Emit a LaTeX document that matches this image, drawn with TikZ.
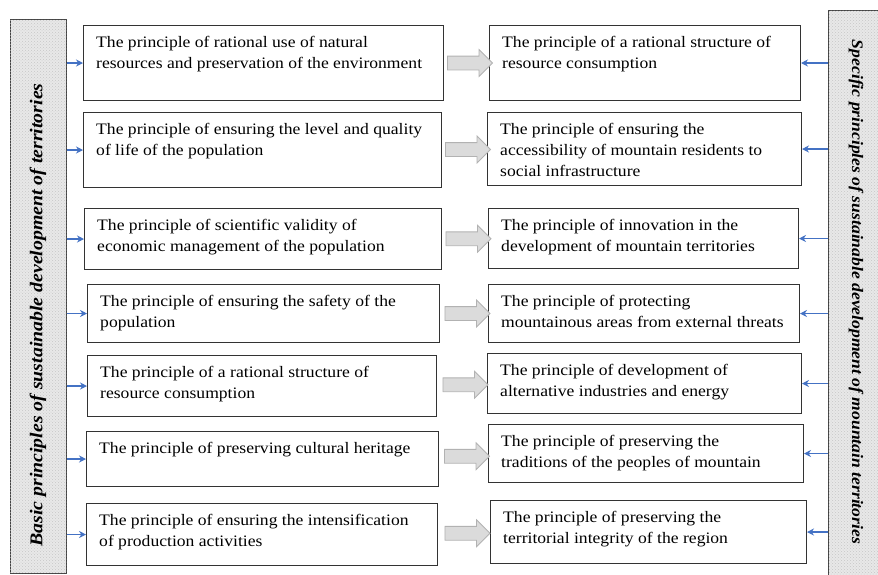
\documentclass[tikz,border=0pt]{standalone}
\usepackage{fontspec}
\setmainfont{Liberation Serif}[FakeStretch=1.1]
\usepackage{xcolor}
\usetikzlibrary{arrows.meta,positioning,calc,shapes.arrows,patterns}
\definecolor{arrblue}{HTML}{4472C4}

\begin{document}
\begin{tikzpicture}[x=1pt,y=-1pt,
 box/.style={draw=black!80,line width=1pt,anchor=north west,inner sep=0pt},
 txt/.style={anchor=north west,align=left,inner sep=0pt,font=\fontsize{16}{21}\selectfont},
 bar/.style={draw=black!75,line width=0.8pt,fill=gray!18,anchor=north west,inner sep=0pt,
   postaction={pattern=crosshatch dots,pattern color=gray!45}},
 barlbl/.style={font=\fontsize{#1}{20}\selectfont\bfseries\itshape},
 garrow/.style={single arrow,draw=gray!60,fill=gray!28,line width=0.8pt,minimum height=45pt,
   inner ysep=6.5pt,inner xsep=0pt,single arrow head extend=6.5pt,single arrow head indent=0pt},
 ba/.style={-{Stealth[length=7pt,width=7pt]},draw=arrblue,line width=1.1pt}]
\useasboundingbox (0,0) rectangle (878,574);
% side bars
\node[bar,minimum width=56pt,minimum height=554pt] (lbar) at (10,19) {};
\node[barlbl=18,rotate=90] (lbl) at (38,315) {Basic principles of sustainable development of territories};
\node[bar,minimum width=60pt,minimum height=580pt] (rbar) at (828,10) {};
\node[barlbl=16,rotate=-90] (rlbl) at (856,292) {Specific principles of sustainable development of mountain territories};
% basic principles
\node[box,minimum width=360pt,minimum height=75pt] (l1) at (83,25) {};
\node[box,minimum width=358pt,minimum height=75pt] (l2) at (83,112) {};
\node[box,minimum width=357pt,minimum height=61pt] (l3) at (84,208) {};
\node[box,minimum width=352pt,minimum height=58pt] (l4) at (87,284) {};
\node[box,minimum width=349pt,minimum height=61pt] (l5) at (87,355) {};
\node[box,minimum width=352pt,minimum height=55pt] (l6) at (86,431) {};
\node[box,minimum width=351pt,minimum height=62pt] (l7) at (86,503) {};
\node[txt] (tl1) at ([xshift=13pt,yshift=-11pt]l1.north west) {The principle of rational use of natural\\ resources and preservation of the environment};
\node[txt] (tl2) at ([xshift=13pt,yshift=-11pt]l2.north west) {The principle of ensuring the level and quality\\ of life of the population};
\node[txt] (tl3) at ([xshift=13pt,yshift=-11pt]l3.north west) {The principle of scientific validity of\\ economic management of the population};
\node[txt] (tl4) at ([xshift=13pt,yshift=-11pt]l4.north west) {The principle of ensuring the safety of the\\ population};
\node[txt] (tl5) at ([xshift=13pt,yshift=-11pt]l5.north west) {The principle of a rational structure of\\ resource consumption};
\node[txt] (tl6) at ([xshift=13pt,yshift=-11pt]l6.north west) {The principle of preserving cultural heritage};
\node[txt] (tl7) at ([xshift=13pt,yshift=-11pt]l7.north west) {The principle of ensuring the intensification\\ of production activities};
% specific principles
\node[box,minimum width=311pt,minimum height=75pt] (r1) at (489,25) {};
\node[box,minimum width=314pt,minimum height=73pt] (r2) at (487,112) {};
\node[box,minimum width=310pt,minimum height=60pt] (r3) at (488,208) {};
\node[box,minimum width=311pt,minimum height=58pt] (r4) at (488,284) {};
\node[box,minimum width=314pt,minimum height=60pt] (r5) at (487,353) {};
\node[box,minimum width=315pt,minimum height=58pt] (r6) at (488,424) {};
\node[box,minimum width=316pt,minimum height=63pt] (r7) at (490,500) {};
\node[txt] (tr1) at ([xshift=13pt,yshift=-11pt]r1.north west) {The principle of a rational structure of\\ resource consumption};
\node[txt] (tr2) at ([xshift=13pt,yshift=-11pt]r2.north west) {The principle of ensuring the\\ accessibility of mountain residents to\\ social infrastructure};
\node[txt] (tr3) at ([xshift=13pt,yshift=-11pt]r3.north west) {The principle of innovation in the\\ development of mountain territories};
\node[txt] (tr4) at ([xshift=13pt,yshift=-11pt]r4.north west) {The principle of protecting\\ mountainous areas from external threats};
\node[txt] (tr5) at ([xshift=13pt,yshift=-11pt]r5.north west) {The principle of development of\\ alternative industries and energy};
\node[txt] (tr6) at ([xshift=13pt,yshift=-11pt]r6.north west) {The principle of preserving the\\ traditions of the peoples of mountain};
\node[txt] (tr7) at ([xshift=13pt,yshift=-11pt]r7.north west) {The principle of preserving the\\ territorial integrity of the region};
% block arrows
\node[garrow] (g1) at ($(l1.east)!0.5!(r1.west)$) {};
\node[garrow] (g2) at ($(l2.east)!0.5!(r2.west)$) {};
\node[garrow] (g3) at ($(l3.east)!0.5!(r3.west)$) {};
\node[garrow] (g4) at ($(l4.east)!0.5!(r4.west)$) {};
\node[garrow] (g5) at ($(l5.east)!0.5!(r5.west)$) {};
\node[garrow] (g6) at ($(l6.east)!0.5!(r6.west)$) {};
\node[garrow] (g7) at ($(l7.east)!0.5!(r7.west)$) {};
% blue arrows from the bars
\draw[ba] (lbar.east |- l1) -- (l1); \draw[ba] (lbar.east |- l2) -- (l2);
\draw[ba] (lbar.east |- l3) -- (l3); \draw[ba] (lbar.east |- l4) -- (l4);
\draw[ba] (lbar.east |- l5) -- (l5); \draw[ba] (lbar.east |- l6) -- (l6);
\draw[ba] (lbar.east |- l7) -- (l7);
\draw[ba] (rbar.west |- r1) -- (r1); \draw[ba] (rbar.west |- r2) -- (r2);
\draw[ba] (rbar.west |- r3) -- (r3); \draw[ba] (rbar.west |- r4) -- (r4);
\draw[ba] (rbar.west |- r5) -- (r5); \draw[ba] (rbar.west |- r6) -- (r6);
\draw[ba] (rbar.west |- r7) -- (r7);
\end{tikzpicture}
\end{document}
